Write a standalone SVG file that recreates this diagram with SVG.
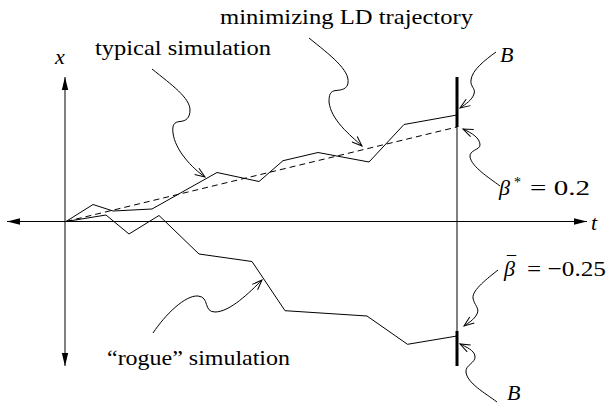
<svg xmlns="http://www.w3.org/2000/svg" width="609" height="414" viewBox="0 0 609 414">
<style>
text{font-family:'Liberation Serif','DejaVu Serif',serif;font-size:22px;fill:#000}
.i{font-style:italic}
.ln{fill:none;stroke:#000;stroke-width:1}
.lead{fill:none;stroke:#000;stroke-width:1;marker-end:url(#vee)}
</style>
<defs>
<marker id="vee" markerUnits="userSpaceOnUse" viewBox="-12 -6 14 12" refX="0" refY="0" markerWidth="14" markerHeight="12" orient="auto" overflow="visible">
<path d="M-10,-3.8 L0,0 L-10,3.8" fill="none" stroke="#000" stroke-width="1"/>
</marker>
<marker id="ax" markerUnits="userSpaceOnUse" viewBox="-14 -4 15 8" refX="0" refY="0" markerWidth="15" markerHeight="8" orient="auto-start-reverse" overflow="visible">
<path d="M-13,-3.2 L0,0 L-13,3.2 z" fill="#000"/>
</marker>
</defs>
<g id="axes">
<line class="ln" x1="65" y1="366" x2="65" y2="77" marker-start="url(#ax)" marker-end="url(#ax)"/>
<line class="ln" x1="7" y1="221.5" x2="587" y2="221.5" marker-start="url(#ax)" marker-end="url(#ax)"/>
<text class="i" x="55" y="64">x</text>
<text class="i" x="591" y="230">t</text>
</g>
<g id="boundary">
<line class="ln" x1="457" y1="77" x2="457" y2="366"/>
<line x1="457" y1="77" x2="457" y2="127" stroke="#000" stroke-width="3"/>
<line x1="457" y1="331" x2="457" y2="366" stroke="#000" stroke-width="3"/>
</g>
<g id="paths">
<polyline id="typical" class="ln" points="66,221.5 93,204.5 113,211 152,209 217,172.5 259,181.5 283,160.7 318,152.5 369,162 404,124.5 457,115"/>
<line id="ld" class="ln" x1="66" y1="221.5" x2="457" y2="127" stroke-dasharray="6 4"/>
<polyline id="rogue" class="ln" points="66,221.5 106,215 129,234 159,215.5 199,254 252,261.5 285,310.7 367,316 407.5,344.3 457,336"/>
</g>
<g id="connectors">
<path class="lead" d="M152,69 C172,85 190,98 190,110 C190,118 186,121 180,121.5 C174,122 172,125 173,133 C175,150 192,168 205,177"/>
<path class="lead" d="M309,38 C330,55 350,70 348,83 C347,89 342,90 336,90.5 C330,91 329,95 329,102 C331,120 350,135 362,146"/>
<path class="lead" d="M496,52 C485,60 472,70 471,80 C470,87 476,88 474,94 C472,100 466,104 460,108"/>
<path class="lead" d="M500,186 C488,177 472,167 470,157 C469,150 480,150 480,145 C480,138 472,133 463,129"/>
<path class="lead" d="M498,270 C488,278 472,290 473,298 C474,305 480,308 477,314 C474,320 468,323 464,326"/>
<path class="lead" d="M497,402 C485,393 467,383 466,372 C465,365 476,363 475,356 C474,350 466,347 460,344"/>
<path class="lead" d="M153,333 C165,315 185,295 198,296 C210,297 203,312 215,312 C230,312 250,292 262,280"/>
</g>
<g id="labels">
<text x="220" y="23.5" textLength="253" lengthAdjust="spacingAndGlyphs">minimizing LD trajectory</text>
<text x="95" y="55" textLength="176" lengthAdjust="spacingAndGlyphs">typical simulation</text>
<text class="i" x="500" y="61.5">B</text>
<text class="i" x="499" y="194.5">β<tspan x="514" y="187" style="font-size:14px;font-style:normal">*</tspan></text>
<text x="530" y="194.5" textLength="60" lengthAdjust="spacingAndGlyphs">= 0.2</text>
<text class="i" x="504" y="276">β<tspan x="507" y="269" style="font-size:18px;font-style:normal">¯</tspan></text>
<text x="527" y="276" textLength="79" lengthAdjust="spacingAndGlyphs">= −0.25</text>
<text class="i" x="507" y="400">B</text>
<text x="107" y="365" textLength="183" lengthAdjust="spacingAndGlyphs">“rogue” simulation</text>
</g>
</svg>
